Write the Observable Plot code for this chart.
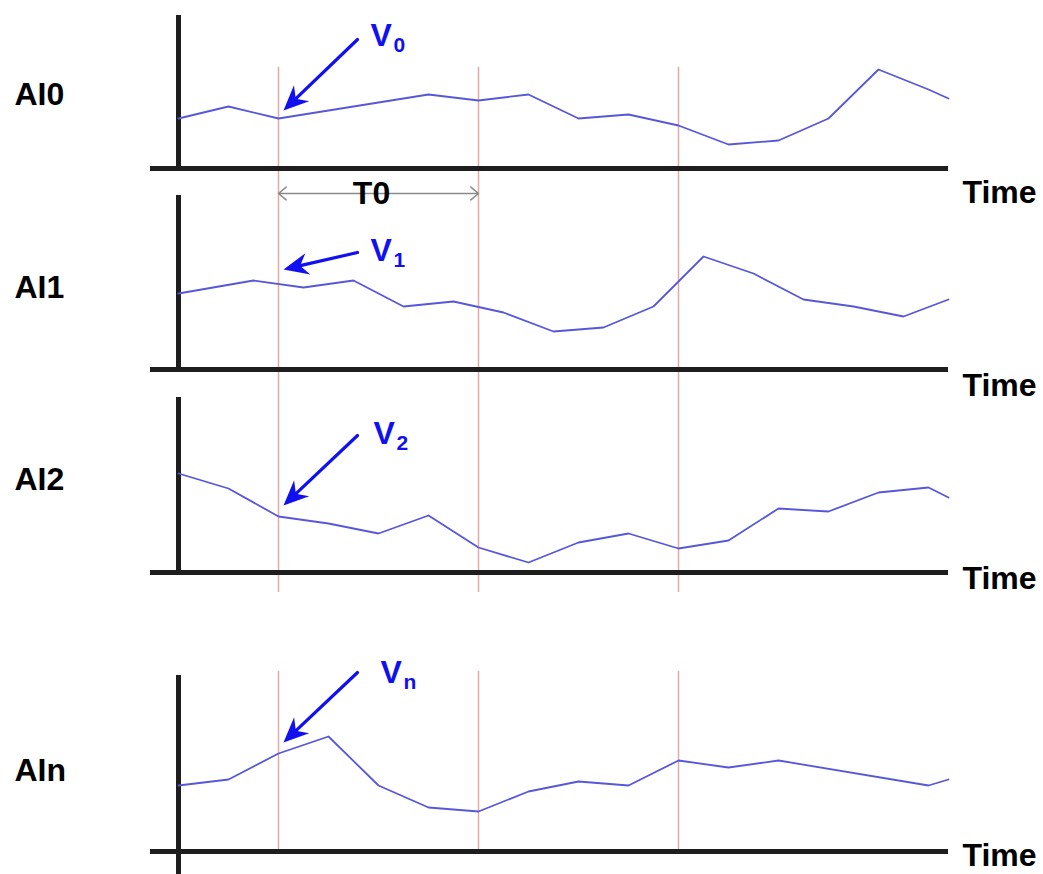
<!DOCTYPE html>
<html>
<head>
<meta charset="utf-8">
<script src="https://cdn.jsdelivr.net/npm/d3@7"></script>
<script src="https://cdn.jsdelivr.net/npm/@observablehq/plot@0.6"></script>
<style>
  body { margin: 0; background: #ffffff; }
  #chart { position: relative; width: 1043px; height: 874px; overflow: hidden; }
  #chart svg { position: absolute; left: 0; top: 0; }
</style>
</head>
<body>
<div id="chart"></div>
<script>
// ---------------- data ----------------
const channelNames = ["AI0", "AI1", "AI2", "AIn"];
const subscripts = ["0", "1", "2", "n"];
const axisLabel = "Time";
const periodLabel = "T0";

// sample times (one unit = one sample step)
const ai0Time = [0, 1, 2, 3, 4, 5, 6, 7, 8, 9, 10, 11, 12, 13, 14, 15, 15.4];
const ai0Values = [50, 62, 50, 58, 66, 74, 68, 74, 50, 54, 43, 24, 28, 50, 99, 79, 70];

const ai1Time = [0, 1.5, 2.5, 3.5, 4.5, 5.5, 6.5, 7.5, 8.5, 9.5, 10.5, 11.5, 12.5, 13.5, 14.5, 15.4];
const ai1Values = [76, 89, 82, 89, 63, 68, 57, 38, 42, 63, 113, 96, 70, 63, 53, 70];

const ai2Time = [0, 1, 2, 3, 4, 5, 6, 7, 8, 9, 10, 11, 12, 13, 14, 15, 15.4];
const ai2Values = [99, 84, 56, 49, 39, 57, 25, 10, 30, 39, 24, 32, 64, 61, 80, 85, 75];

const aInTime = [0, 1, 2, 3, 4, 5, 6, 7, 8, 9, 10, 11, 12, 15, 15.4];
const aInValues = [66, 72, 98, 115, 66, 44, 40, 60, 70, 66, 91, 84, 91, 66, 72];

// sampling instants (red markers) and the sampling period T0
const sampleTimes = [2, 6, 10];
const periodStart = 2, periodEnd = 6;

// annotation arrows: tail -> tip (time, value) per channel
const arrowTailTime = [3.58, 3.58, 3.58, 3.58];
const arrowTailValue = [129, 117, 137, 179];
const arrowTipTime = [2.1, 2.1, 2.1, 2.1];
const arrowTipValue = [58, 100, 67, 109];

// ---------------- layout / style ----------------
const W = 1043, H = 874;
const FONT = "'Liberation Sans', Arial, Helvetica, sans-serif";
const BLUE = "#1010f0";
const LINE = "#5757d9";
const RED = "#e3a9a9";
const AXIS = "#1e1e1e";
const xDomain = [-0.56, 15.4];
const marginLeft = 150, marginRight = 95;
const pxPerTime = (W - marginLeft - marginRight) / (xDomain[1] - xDomain[0]);

// pixel frame of each panel: top of the value axis and the time axis
const panelTop = [15, 195, 397, 675];
const panelBase = [168, 369, 572, 851];
const nameY = [64, 72, 83, 71];        // label baseline above time axis
const timeLabelDy = [34, 26, 16, 14];  // "Time" baseline below time axis
const vLabelTime = [3.84, 3.84, 3.9, 4.04];
const vLabelValue = [123, 109, 129, 169];

const series = [
  ai0Time.map((t, i) => ({t, v: ai0Values[i]})),
  ai1Time.map((t, i) => ({t, v: ai1Values[i]})),
  ai2Time.map((t, i) => ({t, v: ai2Values[i]})),
  aInTime.map((t, i) => ({t, v: aInValues[i]}))
];

// filled "stealth" arrowhead, tip at origin, pointing up
const stealth = {
  draw(ctx) {
    const L = 25, w = 11, n = 0.68 * L;
    ctx.moveTo(0, 0);
    ctx.lineTo(-w, L);
    ctx.lineTo(0, n);
    ctx.lineTo(w, L);
    ctx.closePath();
  }
};

const chart = document.getElementById("chart");
const baseStyle = {background: "transparent", overflow: "visible"};

// red sampling markers (behind everything)
function markerPlot(top, bottom) {
  return Plot.plot({
    width: W, height: H,
    marginLeft, marginRight, marginTop: top, marginBottom: H - bottom,
    x: {domain: xDomain, axis: null},
    y: {axis: null},
    style: baseStyle,
    marks: [Plot.ruleX(sampleTimes, {stroke: RED, strokeWidth: 1.5})]
  });
}
chart.appendChild(markerPlot(67, 592));
chart.appendChild(markerPlot(671, 851));

function panelPlot(p) {
  const top = panelTop[p], base = panelBase[p];
  const pxPerValue = 1;
  const a = {
    x1: arrowTailTime[p], y1: arrowTailValue[p],
    x2: arrowTipTime[p], y2: arrowTipValue[p]
  };
  const dx = (a.x2 - a.x1) * pxPerTime;
  const dy = -(a.y2 - a.y1) * pxPerValue;
  const angle = Math.atan2(dx, -dy) * 180 / Math.PI;
  const marks = [
    Plot.ruleY([0], {stroke: AXIS, strokeWidth: 5}),
    Plot.ruleX([0], {stroke: AXIS, strokeWidth: 5, insetBottom: p === 3 ? -(H - base) : -2.5}),
    Plot.line(series[p], {x: "t", y: "v", stroke: LINE, strokeWidth: 1.8}),
    Plot.arrow([a], {x1: "x1", y1: "y1", x2: "x2", y2: "y2", stroke: BLUE, strokeWidth: 3.2, headLength: 0, insetEnd: 15}),
    Plot.dot([a], {x: "x2", y: "y2", symbol: stealth, fill: BLUE, stroke: "none", rotate: angle}),
    Plot.text(["V"], {x: vLabelTime[p], y: vLabelValue[p], text: d => d, textAnchor: "start", lineAnchor: "bottom",
      fontFamily: FONT, fontWeight: "bold", fontSize: 32, fill: BLUE}),
    Plot.text([subscripts[p]], {x: vLabelTime[p], y: vLabelValue[p], text: d => d, textAnchor: "start", lineAnchor: "bottom",
      dx: 23, dy: 6, fontFamily: FONT, fontWeight: "bold", fontSize: 21, fill: BLUE}),
    Plot.text([channelNames[p]], {x: xDomain[0], y: nameY[p], text: d => d, textAnchor: "start", lineAnchor: "bottom",
      dx: -136, fontFamily: FONT, fontWeight: "bold", fontSize: 32, fill: "#000"}),
    Plot.text([axisLabel], {x: xDomain[1], y: 0, text: d => d, textAnchor: "start", lineAnchor: "bottom",
      dx: 14, dy: timeLabelDy[p], fontFamily: FONT, fontWeight: "bold", fontSize: 32, fill: "#000"})
  ];
  if (p === 0) {
    const mid = (periodStart + periodEnd) / 2;
    marks.push(
      Plot.arrow([{a: mid, b: periodStart}, {a: mid, b: periodEnd}], {
        x1: "a", x2: "b", y1: -25, y2: -25, stroke: "#8a8a8a", strokeWidth: 1.5, headLength: 10, headAngle: 80
      }),
      Plot.text([periodLabel], {x: mid, y: -25, text: d => d, textAnchor: "middle", lineAnchor: "bottom",
        dx: -7, dy: 10, fontFamily: FONT, fontWeight: "bold", fontSize: 32, fill: "#000"})
    );
  }
  return Plot.plot({
    width: W, height: H,
    marginLeft, marginRight, marginTop: top, marginBottom: H - base,
    x: {domain: xDomain, axis: null},
    y: {domain: [0, base - top], axis: null},
    style: baseStyle,
    marks
  });
}

for (let p = 0; p < 4; p++) chart.appendChild(panelPlot(p));
</script>
</body>
</html>
